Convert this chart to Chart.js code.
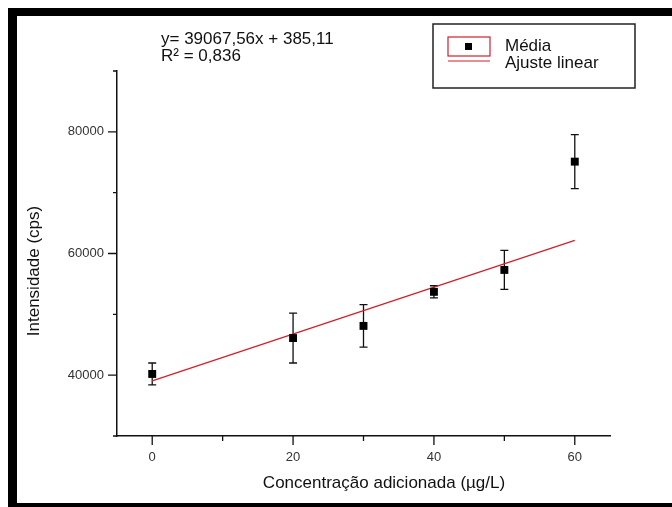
<!DOCTYPE html>
<html lang="pt">
<head>
<meta charset="UTF-8">
<title>Intensidade x Concentração adicionada</title>
<script src="https://cdn.jsdelivr.net/npm/chart.js"></script>
<style>
    html, body { margin: 0; padding: 0; background: #fff; overflow: hidden; }
    .wrap { position: relative; width: 672px; height: 507px; overflow: hidden; }
    .frame {
        position: absolute; left: 8px; top: 8px; width: 720px; height: 487px;
        border-left: 9px solid #000; border-top: 8px solid #000; border-bottom: 8px solid #000;
    }
    .wrap canvas { position: absolute; left: 0; top: 0; }
</style>
</head>
<body>
<div class="wrap">
    <div class="frame"></div>
    <canvas id="grafico" width="672" height="507"></canvas>
</div>

<script>
    // dados
    const conc = [0, 20, 30, 40, 50, 60];                       // µg/L
    const media = [40200, 46100, 48100, 53700, 57300, 75100];   // cps
    const desvio = [1800, 4100, 3500, 1000, 3200, 4450];
    const ajusteX = [0, 60];
    const ajusteY = [39068, 62174];

    const xMajor = [0, 20, 40, 60];
    const xMinor = [10, 30, 50];
    const yMajor = [40000, 60000, 80000];
    const yMinor = [30000, 50000, 70000, 90000];

    const equacao = ['y= 39067,56x + 385,11', 'R² = 0,836'];
    const tituloX = 'Concentração adicionada (µg/L)';
    const tituloY = 'Intensidade (cps)';

    const FONT = 'Arial, "Liberation Sans", sans-serif';

    // barras de erro
    const errorBars = {
        id: 'errorBars',
        beforeDatasetsDraw(chart) {
            const { ctx, scales: { x, y } } = chart;
            ctx.save();
            ctx.strokeStyle = '#111';
            ctx.lineWidth = 1.3;
            conc.forEach((c, i) => {
                const px = x.getPixelForValue(c);
                const top = y.getPixelForValue(media[i] + desvio[i]);
                const bot = y.getPixelForValue(media[i] - desvio[i]);
                ctx.beginPath();
                ctx.moveTo(px, top); ctx.lineTo(px, bot);
                ctx.moveTo(px - 4, top); ctx.lineTo(px + 4, top);
                ctx.moveTo(px - 4, bot); ctx.lineTo(px + 4, bot);
                ctx.stroke();
            });
            ctx.restore();
        }
    };

    // marcas dos eixos (maiores e menores) e títulos
    const eixos = {
        id: 'eixos',
        afterDraw(chart) {
            const { ctx, scales: { x, y } } = chart;
            ctx.save();
            ctx.strokeStyle = '#111';
            ctx.lineWidth = 1.3;
            ctx.beginPath();
            xMajor.forEach(v => { const p = x.getPixelForValue(v); ctx.moveTo(p, y.bottom); ctx.lineTo(p, y.bottom + 9); });
            xMinor.forEach(v => { const p = x.getPixelForValue(v); ctx.moveTo(p, y.bottom); ctx.lineTo(p, y.bottom + 5); });
            yMajor.forEach(v => { const p = y.getPixelForValue(v); ctx.moveTo(x.left, p); ctx.lineTo(x.left - 9, p); });
            yMinor.forEach(v => { const p = y.getPixelForValue(v); ctx.moveTo(x.left, p); ctx.lineTo(x.left - 4, p); });
            ctx.stroke();

            ctx.fillStyle = '#111';
            ctx.font = '17px ' + FONT;
            ctx.textAlign = 'center';
            ctx.textBaseline = 'middle';
            ctx.fillText(tituloX, 384, 483);
            ctx.translate(34, 271);
            ctx.rotate(-Math.PI / 2);
            ctx.fillText(tituloY, 0, 0);
            ctx.restore();
        }
    };

    // legenda em caixa + equação do ajuste
    const legendaBox = {
        id: 'legendaBox',
        afterDraw(chart) {
            const { ctx } = chart;
            const ds = chart.data.datasets;
            ctx.save();
            ctx.strokeStyle = '#222';
            ctx.lineWidth = 1.5;
            ctx.strokeRect(433, 24, 202, 64);

            // amostra "Média": caixa vermelha com quadrado preto
            ctx.strokeStyle = '#d0202a';
            ctx.lineWidth = 1.2;
            ctx.strokeRect(448, 37, 42, 19);
            ctx.fillStyle = '#000';
            ctx.fillRect(465, 43, 7, 7);

            // amostra "Ajuste linear"
            ctx.beginPath();
            ctx.moveTo(448, 61); ctx.lineTo(490, 61);
            ctx.stroke();

            ctx.fillStyle = '#111';
            ctx.font = '17px ' + FONT;
            ctx.textBaseline = 'middle';
            ctx.fillText(ds[0].label, 505, 46);
            ctx.fillText(ds[1].label, 505, 63);

            ctx.fillText(equacao[0], 161, 39);
            ctx.fillText(equacao[1], 161, 56);
            ctx.restore();
        }
    };

    const ctx = document.getElementById('grafico').getContext('2d');

    new Chart(ctx, {
        type: 'scatter',
        data: {
            datasets: [{
                label: 'Média',
                data: conc.map((c, i) => ({ x: c, y: media[i] })),
                pointStyle: 'rect',
                pointRadius: 5.6,
                backgroundColor: '#000',
                borderColor: '#000',
                borderWidth: 0,
                showLine: false
            }, {
                label: 'Ajuste linear',
                type: 'line',
                data: ajusteX.map((c, i) => ({ x: c, y: ajusteY[i] })),
                borderColor: '#d0202a',
                borderWidth: 1.3,
                pointRadius: 0,
                fill: false
            }]
        },
        options: {
            responsive: false,
            animation: false,
            layout: { padding: { left: 0, top: 71, right: 62, bottom: 0 } },
            plugins: {
                legend: { display: false },
                tooltip: { enabled: false }
            },
            scales: {
                x: {
                    type: 'linear',
                    min: -5,
                    max: 65,
                    afterBuildTicks: s => { s.ticks = xMajor.map(v => ({ value: v })); },
                    afterFit: s => { s.height = 71; },
                    grid: { display: false, drawTicks: true, tickLength: 9 },
                    border: { display: true, color: '#111', width: 1.5 },
                    ticks: {
                        color: '#333',
                        padding: 5,
                        maxRotation: 0,
                        font: { family: FONT, size: 13 }
                    }
                },
                y: {
                    type: 'linear',
                    min: 30000,
                    max: 90000,
                    afterBuildTicks: s => { s.ticks = yMajor.map(v => ({ value: v })); },
                    afterFit: s => { s.width = 117; },
                    grid: { display: false, drawTicks: true, tickLength: 9 },
                    border: { display: true, color: '#111', width: 1.5 },
                    ticks: {
                        color: '#333',
                        padding: 4,
                        font: { family: FONT, size: 13 },
                        callback: v => String(v)
                    }
                }
            }
        },
        plugins: [errorBars, eixos, legendaBox]
    });
</script>
</body>
</html>
